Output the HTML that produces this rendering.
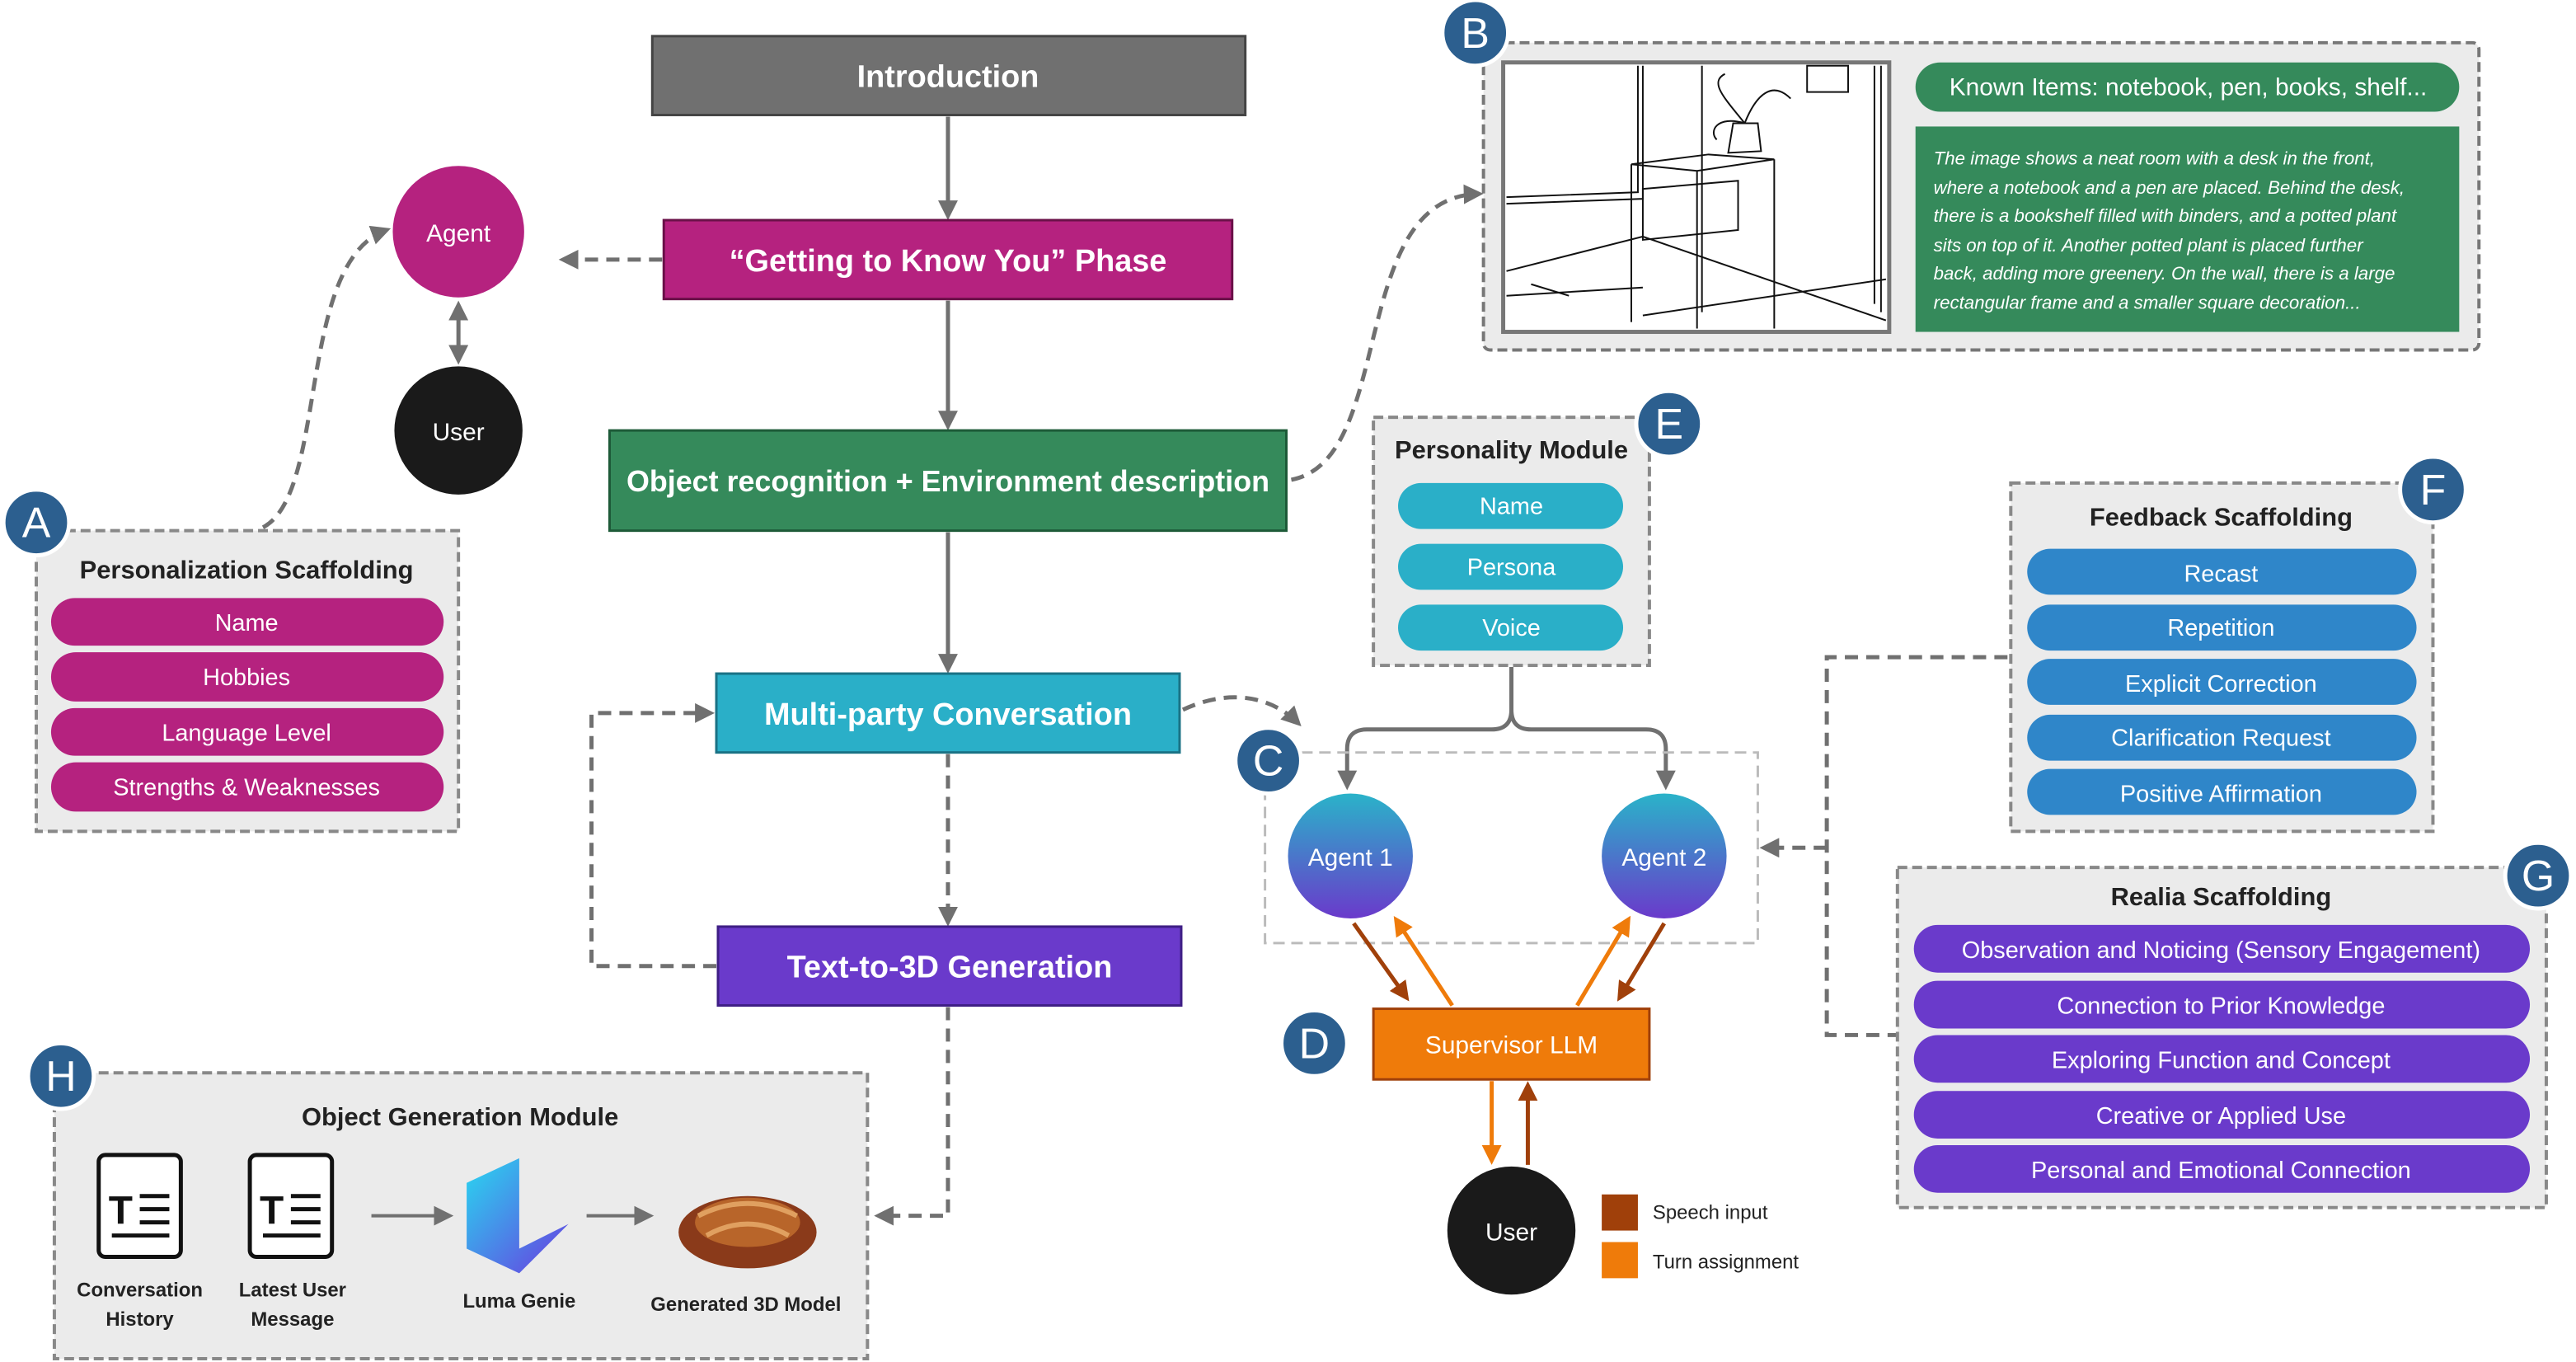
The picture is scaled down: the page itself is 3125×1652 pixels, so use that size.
<!DOCTYPE html>
<html><head><meta charset="utf-8"><style>
html,body{margin:0;padding:0;background:#fff;width:3125px;height:1652px;overflow:hidden}
svg{display:block}
text{font-family:"Liberation Sans",sans-serif}
</style></head><body>
<svg width="3125" height="1652" viewBox="0 0 1568 829" xmlns="http://www.w3.org/2000/svg">
<defs>
<marker id="agb" markerWidth="12" markerHeight="12" refX="9" refY="6" orient="auto-start-reverse" markerUnits="userSpaceOnUse"><path d="M0,0 L12,6 L0,12 z" fill="#707070"/></marker>
<marker id="ab" markerWidth="12" markerHeight="12" refX="9" refY="6" orient="auto" markerUnits="userSpaceOnUse"><path d="M0,0 L12,6 L0,12 z" fill="#a0400a"/></marker>
<marker id="ao" markerWidth="12" markerHeight="12" refX="9" refY="6" orient="auto" markerUnits="userSpaceOnUse"><path d="M0,0 L12,6 L0,12 z" fill="#ef7b0a"/></marker>
<linearGradient id="ag2" x1="0" y1="0" x2="0" y2="1"><stop offset="0" stop-color="#2ab3c9"/><stop offset="1" stop-color="#6a3acb"/></linearGradient>
<linearGradient id="luma" x1="0" y1="0" x2="1" y2="1"><stop offset="0" stop-color="#28d8f0"/><stop offset="1" stop-color="#6a3ae0"/></linearGradient>
</defs>
<g stroke="#707070" stroke-width="2.5" fill="none">
<line x1="577" y1="71" x2="577" y2="131" marker-end="url(#agb)"/>
<line x1="577" y1="183" x2="577" y2="259" marker-end="url(#agb)"/>
<line x1="577" y1="324" x2="577" y2="407" marker-end="url(#agb)"/>
<g stroke-dasharray="8,5">
<line x1="577" y1="459" x2="577" y2="561" marker-end="url(#agb)"/>
<path d="M577,613 V740 H535" marker-end="url(#agb)"/>
<path d="M436,588 H360 V434 H432" marker-end="url(#agb)"/>
<line x1="403" y1="158" x2="343" y2="158" marker-end="url(#agb)"/>
<path d="M160,321 C200,300 180,160 235,140" marker-end="url(#agb)"/>
<path d="M786,292 C850,280 820,120 900,118" marker-end="url(#agb)"/>
<path d="M720,432 C750,418 775,425 790,440" marker-end="url(#agb)"/>
<path d="M1222,400 H1112 V630 H1155"/>
<path d="M1112,516 H1074" marker-end="url(#agb)"/>
</g>
<line x1="279" y1="186" x2="279" y2="219" marker-start="url(#agb)" marker-end="url(#agb)"/>
<path d="M920,406 V432 Q920,444 908,444 H832 Q820,444 820,456 V478" marker-end="url(#agb)"/>
<path d="M920,432 Q920,444 932,444 H1002 Q1014,444 1014,456 V478" marker-end="url(#agb)"/>
</g>
<rect x="397" y="22" width="361" height="48" fill="#707070" stroke="#444" stroke-width="1.5"/>
<text x="577" y="53" text-anchor="middle" fill="#fff" font-size="19" font-weight="bold">Introduction</text>
<rect x="404" y="134" width="346" height="48" fill="#b5227f" stroke="#6a1048" stroke-width="1.5"/>
<text x="577" y="165" text-anchor="middle" fill="#fff" font-size="19" font-weight="bold">“Getting to Know You” Phase</text>
<rect x="371" y="262" width="412" height="61" fill="#358a5b" stroke="#1d5a38" stroke-width="1.5"/>
<text x="577" y="299" text-anchor="middle" fill="#fff" font-size="18" font-weight="bold">Object recognition + Environment description</text>
<rect x="436" y="410" width="282" height="48" fill="#2aafc8" stroke="#1a7285" stroke-width="1.5"/>
<text x="577" y="441" text-anchor="middle" fill="#fff" font-size="19" font-weight="bold">Multi-party Conversation</text>
<rect x="437" y="564" width="282" height="48" fill="#6a3acb" stroke="#3f1f85" stroke-width="1.5"/>
<text x="578" y="595" text-anchor="middle" fill="#fff" font-size="19" font-weight="bold">Text-to-3D Generation</text>
<circle cx="279" cy="141" r="40" fill="#b5227f"/>
<text x="279" y="147" text-anchor="middle" fill="#fff" font-size="15">Agent</text>
<circle cx="279" cy="262" r="39" fill="#1a1a1a"/>
<text x="279" y="268" text-anchor="middle" fill="#fff" font-size="15">User</text>
<rect x="22" y="323" width="257" height="183" fill="#ebebeb" stroke="#888" stroke-width="2" stroke-dasharray="6,3"/>
<text x="150" y="352" text-anchor="middle" font-size="15.5" font-weight="bold" fill="#222">Personalization Scaffolding</text>
<g fill="#b5227f"><rect x="31" y="364" width="239" height="29" rx="14.5"/><rect x="31" y="397" width="239" height="30" rx="15"/><rect x="31" y="431" width="239" height="29" rx="14.5"/><rect x="31" y="464" width="239" height="30" rx="15"/></g>
<g fill="#fff" font-size="14.5" text-anchor="middle"><text x="150" y="384">Name</text><text x="150" y="417">Hobbies</text><text x="150" y="451">Language Level</text><text x="150" y="484">Strengths &amp; Weaknesses</text></g>
<rect x="903" y="26" width="606" height="187" rx="4" fill="#ebebeb" stroke="#777" stroke-width="2" stroke-dasharray="6,3"/>
<rect x="915" y="38" width="235" height="164" fill="#fff" stroke="#777" stroke-width="2.5"/>
<g stroke="#111" stroke-width="1" fill="none">
<path d="M917,120 L997,117 V40 M917,124 L1000,121 V40"/>
<path d="M1036,40 V190 M1141,40 V185 M1145,40 V190"/>
<rect x="1100" y="40" width="25" height="16"/>
<path d="M993,100 L1040,94 L1080,97 L1033,104 z M993,100 V196 M1033,104 V200 M1080,97 V200"/>
<path d="M1000,115 L1058,110 V140 L1000,146 z"/>
<path d="M1052,93 L1055,75 H1070 L1072,92 z M1062,75 C1050,60 1040,50 1050,45 M1062,75 C1070,55 1080,50 1090,60 M1062,75 C1045,70 1040,80 1045,85"/>
<path d="M917,165 L1000,144 L1148,195 M917,180 L1000,175 M1000,192 L1148,170"/>
<path d="M932,173 L955,180"/>
</g>
<rect x="1166" y="38" width="331" height="30" rx="15" fill="#358a5b"/>
<text x="1332" y="58" text-anchor="middle" fill="#fff" font-size="15">Known Items: notebook, pen, books, shelf...</text>
<rect x="1166" y="77" width="331" height="125" fill="#358a5b"/>
<g fill="#fff" font-size="11.2" font-style="italic"><text x="1177" y="100">The image shows a neat room with a desk in the front,</text><text x="1177" y="118">where a notebook and a pen are placed. Behind the desk,</text><text x="1177" y="135">there is a bookshelf filled with binders, and a potted plant</text><text x="1177" y="153">sits on top of it. Another potted plant is placed further</text><text x="1177" y="170">back, adding more greenery. On the wall, there is a large</text><text x="1177" y="188">rectangular frame and a smaller square decoration...</text></g>
<rect x="836" y="254" width="168" height="151" fill="#ebebeb" stroke="#888" stroke-width="2" stroke-dasharray="6,3"/>
<text x="920" y="279" text-anchor="middle" font-size="15.5" font-weight="bold" fill="#222">Personality Module</text>
<g fill="#2aafc8"><rect x="851" y="294" width="137" height="28" rx="14"/><rect x="851" y="331" width="137" height="28" rx="14"/><rect x="851" y="368" width="137" height="28" rx="14"/></g>
<g fill="#fff" font-size="14.5" text-anchor="middle"><text x="920" y="313">Name</text><text x="920" y="350">Persona</text><text x="920" y="387">Voice</text></g>
<rect x="770" y="458" width="300" height="116" fill="none" stroke="#bbb" stroke-width="1.5" stroke-dasharray="7,4"/>
<circle cx="822" cy="521" r="38" fill="url(#ag2)"/><text x="822" y="527" text-anchor="middle" fill="#fff" font-size="15">Agent 1</text>
<circle cx="1013" cy="521" r="38" fill="url(#ag2)"/><text x="1013" y="527" text-anchor="middle" fill="#fff" font-size="15">Agent 2</text>
<rect x="836" y="614" width="168" height="43" fill="#ef7b0a" stroke="#a0400a" stroke-width="1.5"/>
<text x="920" y="641" text-anchor="middle" fill="#fff" font-size="15">Supervisor LLM</text>
<g stroke-width="2.5">
<line x1="824" y1="562" x2="856" y2="607" stroke="#a0400a" marker-end="url(#ab)"/>
<line x1="884" y1="612" x2="850" y2="560" stroke="#ef7b0a" marker-end="url(#ao)"/>
<line x1="960" y1="612" x2="991" y2="560" stroke="#ef7b0a" marker-end="url(#ao)"/>
<line x1="1013" y1="562" x2="986" y2="607" stroke="#a0400a" marker-end="url(#ab)"/>
<line x1="908" y1="658" x2="908" y2="706" stroke="#ef7b0a" marker-end="url(#ao)"/>
<line x1="930" y1="709" x2="930" y2="661" stroke="#a0400a" marker-end="url(#ab)"/>
</g>
<circle cx="920" cy="749" r="39" fill="#1a1a1a"/><text x="920" y="755" text-anchor="middle" fill="#fff" font-size="15">User</text>
<rect x="975" y="727" width="22" height="22" fill="#a0400a"/><text x="1006" y="742" font-size="12" fill="#222">Speech input</text>
<rect x="975" y="756" width="22" height="22" fill="#ef7b0a"/><text x="1006" y="772" font-size="12" fill="#222">Turn assignment</text>
<rect x="1224" y="294" width="257" height="212" fill="#ebebeb" stroke="#888" stroke-width="2" stroke-dasharray="6,3"/>
<text x="1352" y="320" text-anchor="middle" font-size="15.5" font-weight="bold" fill="#222">Feedback Scaffolding</text>
<g fill="#2f86c9"><rect x="1234" y="334" width="237" height="28" rx="14"/><rect x="1234" y="368" width="237" height="28" rx="14"/><rect x="1234" y="401" width="237" height="28" rx="14"/><rect x="1234" y="435" width="237" height="28" rx="14"/><rect x="1234" y="468" width="237" height="28" rx="14"/></g>
<g fill="#fff" font-size="14.5" text-anchor="middle"><text x="1352" y="354">Recast</text><text x="1352" y="387">Repetition</text><text x="1352" y="421">Explicit Correction</text><text x="1352" y="454">Clarification Request</text><text x="1352" y="488">Positive Affirmation</text></g>
<rect x="1155" y="528" width="395" height="207" fill="#ebebeb" stroke="#888" stroke-width="2" stroke-dasharray="6,3"/>
<text x="1352" y="551" text-anchor="middle" font-size="15.5" font-weight="bold" fill="#222">Realia Scaffolding</text>
<g fill="#6a3acb"><rect x="1165" y="563" width="375" height="29" rx="14.5"/><rect x="1165" y="597" width="375" height="29" rx="14.5"/><rect x="1165" y="630" width="375" height="29" rx="14.5"/><rect x="1165" y="664" width="375" height="29" rx="14.5"/><rect x="1165" y="697" width="375" height="29" rx="14.5"/></g>
<g fill="#fff" font-size="14.5" text-anchor="middle"><text x="1352" y="583">Observation and Noticing (Sensory Engagement)</text><text x="1352" y="617">Connection to Prior Knowledge</text><text x="1352" y="650">Exploring Function and Concept</text><text x="1352" y="684">Creative or Applied Use</text><text x="1352" y="717">Personal and Emotional Connection</text></g>
<rect x="33" y="653" width="495" height="174" fill="#ebebeb" stroke="#888" stroke-width="2" stroke-dasharray="6,3"/>
<text x="280" y="685" text-anchor="middle" font-size="15.5" font-weight="bold" fill="#222">Object Generation Module</text>
<g stroke="#707070" stroke-width="2" fill="none">
<line x1="226" y1="740" x2="273" y2="740" marker-end="url(#agb)"/>
<line x1="357" y1="740" x2="395" y2="740" marker-end="url(#agb)"/>
</g>
<g fill="#fff" stroke="#111" stroke-width="2.5"><rect x="60" y="703" width="50" height="62" rx="4"/><rect x="152" y="703" width="50" height="62" rx="4"/></g>
<g font-size="24" font-weight="bold" fill="#111"><text x="66" y="745" font-family="Liberation Serif">T</text><text x="158" y="745" font-family="Liberation Serif">T</text></g>
<g stroke="#111" stroke-width="2.5"><path d="M85,728 H103 M85,736 H103 M85,744 H103 M68,752 H103 M177,728 H195 M177,736 H195 M177,744 H195 M160,752 H195"/></g>
<g font-size="12" font-weight="bold" fill="#222" text-anchor="middle"><text x="85" y="789">Conversation</text><text x="85" y="807">History</text><text x="178" y="789">Latest User</text><text x="178" y="807">Message</text><text x="316" y="796">Luma Genie</text><text x="454" y="798">Generated 3D Model</text></g>
<path d="M284,720 L316,705 V760 L346,745 L316,775 L284,760 z" fill="url(#luma)"/>
<ellipse cx="455" cy="750" rx="42" ry="22" fill="#8a3a1a"/>
<ellipse cx="455" cy="744" rx="32" ry="15" fill="#b8652a"/>
<path d="M425,740 Q455,725 485,740 M430,752 Q455,738 480,752" stroke="#e0a060" stroke-width="3" fill="none"/>
<g fill="#2c5f8f" stroke="#fff" stroke-width="2.5">
<circle cx="22" cy="318" r="20"/><circle cx="898" cy="20" r="20"/><circle cx="772" cy="463" r="20"/><circle cx="800" cy="635" r="20"/><circle cx="1016" cy="258" r="20"/><circle cx="1481" cy="298" r="20"/><circle cx="1545" cy="533" r="20"/><circle cx="37" cy="655" r="20"/></g>
<g fill="#fff" font-size="26" text-anchor="middle">
<text x="22" y="327">A</text><text x="898" y="29">B</text><text x="772" y="472">C</text><text x="800" y="644">D</text><text x="1016" y="267">E</text><text x="1481" y="307">F</text><text x="1545" y="542">G</text><text x="37" y="664">H</text></g>
</svg>
</body></html>
